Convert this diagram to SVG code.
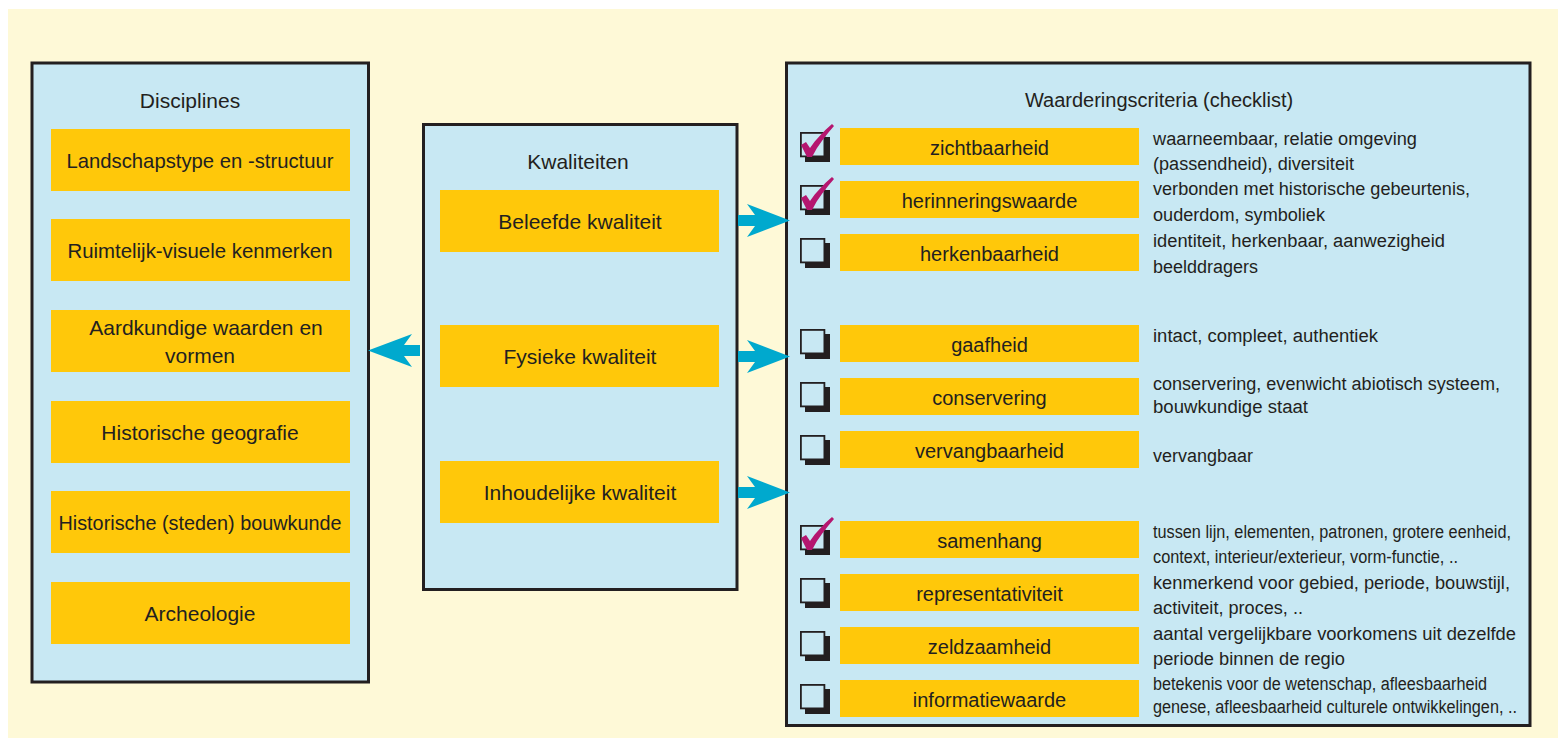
<svg xmlns="http://www.w3.org/2000/svg" width="1561" height="738" viewBox="0 0 1561 738">
<style>
.panel{fill:#c8e8f3;stroke:#231f20;stroke-width:3}
.ob{fill:#ffc80a}
.t{font-family:"Liberation Sans",Arial,sans-serif;fill:#231f20}
.lt{font-size:21px;text-anchor:middle}
.ct{font-size:20px;text-anchor:middle}
.dt{font-size:18px}
.arrow{fill:#00a9ce}
.cb{fill:#c8e8f3;stroke:#231f20;stroke-width:1.8}
.cbs{fill:#231f20}
.chk{fill:#b5166f}
</style>
<defs>
<g id="box"><rect class="cbs" x="5" y="5" width="25" height="25"/><rect class="cb" x="0.9" y="0.9" width="23.5" height="23.5"/></g>
<path id="check" class="chk" d="M1,13 L6,10 L10,16 C16,7 23,0 32,-8 L34,-6 C26,3 18,13 12,25 L7,25 Z"/>
</defs>
<rect x="8" y="9" width="1550" height="729" fill="#fef9d7"/>

<g id="disciplines">
<rect class="panel" x="32" y="63" width="336.5" height="619"/>
<text class="t lt" x="190" y="108">Disciplines</text>
<rect class="ob" x="51" y="129" width="299" height="62"/>
<text class="t lt" x="200" y="168" textLength="267" lengthAdjust="spacingAndGlyphs">Landschapstype en -structuur</text>
<rect class="ob" x="51" y="219" width="299" height="62"/>
<text class="t lt" x="200" y="258" textLength="265" lengthAdjust="spacingAndGlyphs">Ruimtelijk-visuele kenmerken</text>
<rect class="ob" x="51" y="310" width="299" height="62"/>
<text class="t lt" x="206" y="335">Aardkundige waarden en</text>
<text class="t lt" x="200" y="363">vormen</text>
<rect class="ob" x="51" y="401" width="299" height="62"/>
<text class="t lt" x="200" y="440">Historische geografie</text>
<rect class="ob" x="51" y="491" width="299" height="62"/>
<text class="t lt" x="200" y="530" textLength="283" lengthAdjust="spacingAndGlyphs">Historische (steden) bouwkunde</text>
<rect class="ob" x="51" y="582" width="299" height="62"/>
<text class="t lt" x="200" y="621">Archeologie</text>
</g>

<g id="kwaliteiten">
<rect class="panel" x="423.5" y="124.5" width="313.5" height="465"/>
<text class="t lt" x="578" y="169">Kwaliteiten</text>
<rect class="ob" x="440" y="190" width="279" height="62"/>
<text class="t lt" x="580" y="229">Beleefde kwaliteit</text>
<rect class="ob" x="440" y="325" width="279" height="62"/>
<text class="t lt" x="580" y="364">Fysieke kwaliteit</text>
<rect class="ob" x="440" y="461" width="279" height="62"/>
<text class="t lt" x="580" y="500">Inhoudelijke kwaliteit</text>
</g>

<g id="criteria">
<rect class="panel" x="786.5" y="63" width="743.5" height="662.5"/>
<text class="t ct" x="1159" y="107">Waarderingscriteria (checklist)</text>

<rect class="ob" x="840" y="128" width="299" height="37"/>
<text class="t ct" x="989.5" y="155">zichtbaarheid</text>
<use href="#box" x="800" y="132"/><use href="#check" x="800" y="132"/>
<text class="t dt" x="1153" y="145" textLength="264" lengthAdjust="spacingAndGlyphs">waarneembaar, relatie omgeving</text>
<text class="t dt" x="1153" y="170" textLength="201" lengthAdjust="spacingAndGlyphs">(passendheid), diversiteit</text>

<rect class="ob" x="840" y="181" width="299" height="37"/>
<text class="t ct" x="989.5" y="208">herinneringswaarde</text>
<use href="#box" x="800" y="185"/><use href="#check" x="800" y="185"/>
<text class="t dt" x="1153" y="195" textLength="317" lengthAdjust="spacingAndGlyphs">verbonden met historische gebeurtenis,</text>
<text class="t dt" x="1153" y="221" textLength="172" lengthAdjust="spacingAndGlyphs">ouderdom, symboliek</text>

<rect class="ob" x="840" y="234" width="299" height="37"/>
<text class="t ct" x="989.5" y="261">herkenbaarheid</text>
<use href="#box" x="800" y="238"/>
<text class="t dt" x="1153" y="247" textLength="292" lengthAdjust="spacingAndGlyphs">identiteit, herkenbaar, aanwezigheid</text>
<text class="t dt" x="1153" y="273" textLength="105" lengthAdjust="spacingAndGlyphs">beelddragers</text>

<rect class="ob" x="840" y="325" width="299" height="37"/>
<text class="t ct" x="989.5" y="352">gaafheid</text>
<use href="#box" x="800" y="329"/>
<text class="t dt" x="1153" y="342" textLength="225" lengthAdjust="spacingAndGlyphs">intact, compleet, authentiek</text>

<rect class="ob" x="840" y="378" width="299" height="37"/>
<text class="t ct" x="989.5" y="405">conservering</text>
<use href="#box" x="800" y="382"/>
<text class="t dt" x="1153" y="390" textLength="347" lengthAdjust="spacingAndGlyphs">conservering, evenwicht abiotisch systeem,</text>
<text class="t dt" x="1153" y="413" textLength="155" lengthAdjust="spacingAndGlyphs">bouwkundige staat</text>

<rect class="ob" x="840" y="431" width="299" height="37"/>
<text class="t ct" x="989.5" y="458">vervangbaarheid</text>
<use href="#box" x="800" y="435"/>
<text class="t dt" x="1153" y="462" textLength="100" lengthAdjust="spacingAndGlyphs">vervangbaar</text>

<rect class="ob" x="840" y="521" width="299" height="37"/>
<text class="t ct" x="989.5" y="548">samenhang</text>
<use href="#box" x="800" y="525"/><use href="#check" x="800" y="525"/>
<text class="t dt" x="1153" y="538" textLength="358" lengthAdjust="spacingAndGlyphs">tussen lijn, elementen, patronen, grotere eenheid,</text>
<text class="t dt" x="1153" y="563" textLength="305" lengthAdjust="spacingAndGlyphs">context, interieur/exterieur, vorm-functie, ..</text>

<rect class="ob" x="840" y="574" width="299" height="37"/>
<text class="t ct" x="989.5" y="601">representativiteit</text>
<use href="#box" x="800" y="578"/>
<text class="t dt" x="1153" y="589" textLength="357" lengthAdjust="spacingAndGlyphs">kenmerkend voor gebied, periode, bouwstijl,</text>
<text class="t dt" x="1153" y="614" textLength="150" lengthAdjust="spacingAndGlyphs">activiteit, proces, ..</text>

<rect class="ob" x="840" y="627" width="299" height="37"/>
<text class="t ct" x="989.5" y="654">zeldzaamheid</text>
<use href="#box" x="800" y="631"/>
<text class="t dt" x="1153" y="640" textLength="363" lengthAdjust="spacingAndGlyphs">aantal vergelijkbare voorkomens uit dezelfde</text>
<text class="t dt" x="1153" y="665" textLength="192" lengthAdjust="spacingAndGlyphs">periode binnen de regio</text>

<rect class="ob" x="840" y="680" width="299" height="37"/>
<text class="t ct" x="989.5" y="707">informatiewaarde</text>
<use href="#box" x="800" y="684"/>
<text class="t dt" x="1153" y="690" textLength="334" lengthAdjust="spacingAndGlyphs">betekenis voor de wetenschap, afleesbaarheid</text>
<text class="t dt" x="1153" y="713" textLength="364" lengthAdjust="spacingAndGlyphs">genese, afleesbaarheid culturele ontwikkelingen, ..</text>
</g>

<g id="connectors">
<polygon class="arrow" points="738,215 755,215 747,204 790,220.5 747,237 755,226 738,226"/>
<polygon class="arrow" points="738,351 755,351 747,340 790,356.5 747,373 755,362 738,362"/>
<polygon class="arrow" points="738,487 755,487 747,476 790,492.5 747,509 755,498 738,498"/>
<polygon class="arrow" points="420,345 404,345 412,334 368,350.5 412,367 404,356 420,356"/>
</g>
</svg>
